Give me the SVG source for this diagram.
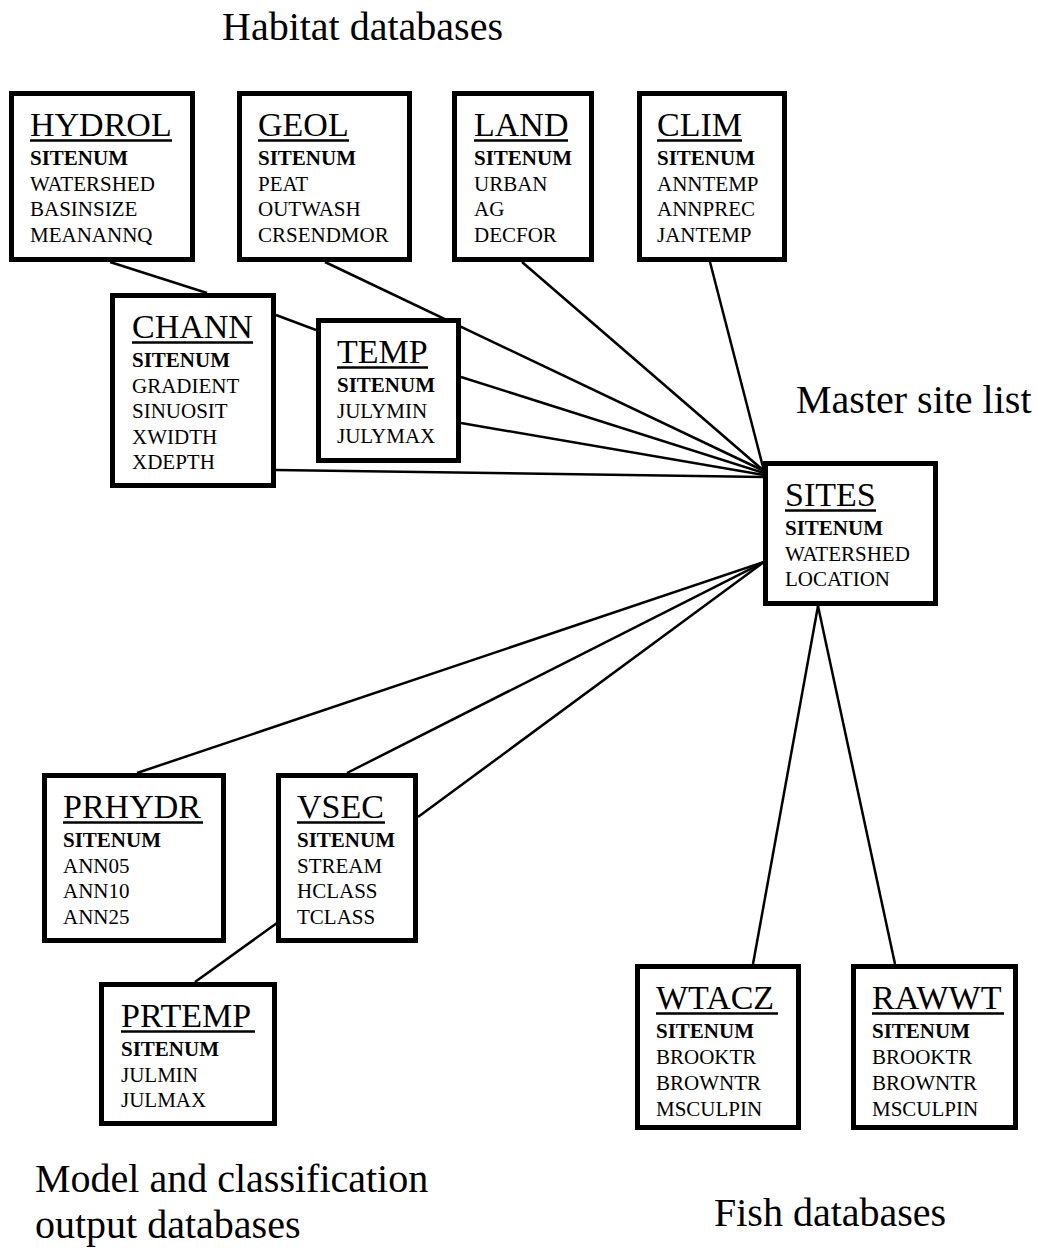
<svg xmlns="http://www.w3.org/2000/svg" width="1037" height="1249" viewBox="0 0 1037 1249">
<style>
text{font-family:"Liberation Serif","Times New Roman",serif;fill:#000}
.lbl{font-size:40px}
.t{font-size:34px}
.f{font-size:21px}
.k{font-size:21px;font-weight:bold}
.box{fill:#fff;stroke:#000;stroke-width:5}
.ul{stroke:#000;stroke-width:2.6}
.c line{stroke:#000;stroke-width:2.5}
</style>
<rect width="1037" height="1249" fill="#fff"/>
<text class="lbl" x="222" y="40">Habitat databases</text>
<text class="lbl" x="796" y="413">Master site list</text>
<text class="lbl" x="35" y="1192">Model and classification</text>
<text class="lbl" x="35" y="1238">output databases</text>
<text class="lbl" x="714" y="1226">Fish databases</text>
<g id="connectors" class="c">
<line x1="110" y1="262" x2="207" y2="293"/>
<line x1="276" y1="315" x2="316" y2="330"/>
<line x1="325" y1="262" x2="764" y2="471"/>
<line x1="522" y1="262" x2="764" y2="471"/>
<line x1="710" y1="262" x2="764" y2="471"/>
<line x1="461" y1="377" x2="764" y2="473"/>
<line x1="461" y1="423" x2="764" y2="475"/>
<line x1="276" y1="470" x2="764" y2="477"/>
<line x1="137" y1="773" x2="764" y2="562"/>
<line x1="347" y1="773" x2="764" y2="562"/>
<line x1="418" y1="817" x2="764" y2="562"/>
<line x1="277" y1="923" x2="195" y2="982"/>
<line x1="818" y1="606" x2="753" y2="964"/>
<line x1="818" y1="606" x2="895" y2="964"/>
</g>
<g id="HYDROL">
<rect class="box" x="11.5" y="93.5" width="181" height="166"/>
<text class="t" x="30" y="136">HYDROL</text><line class="ul" x1="30" y1="140.5" x2="172" y2="140.5"/>
<text class="k" x="30" y="165">SITENUM</text>
<text class="f" x="30" y="190.5">WATERSHED</text>
<text class="f" x="30" y="216">BASINSIZE</text>
<text class="f" x="30" y="241.5">MEANANNQ</text>
</g>
<g id="GEOL">
<rect class="box" x="239.5" y="93.5" width="170" height="166"/>
<text class="t" x="258" y="136">GEOL</text><line class="ul" x1="258" y1="140.5" x2="349" y2="140.5"/>
<text class="k" x="258" y="165">SITENUM</text>
<text class="f" x="258" y="190.5">PEAT</text>
<text class="f" x="258" y="216">OUTWASH</text>
<text class="f" x="258" y="241.5">CRSENDMOR</text>
</g>
<g id="LAND">
<rect class="box" x="454.5" y="93.5" width="137" height="166"/>
<text class="t" x="474" y="136">LAND</text><line class="ul" x1="474" y1="140.5" x2="568" y2="140.5"/>
<text class="k" x="474" y="165">SITENUM</text>
<text class="f" x="474" y="190.5">URBAN</text>
<text class="f" x="474" y="216">AG</text>
<text class="f" x="474" y="241.5">DECFOR</text>
</g>
<g id="CLIM">
<rect class="box" x="639.5" y="93.5" width="145" height="166"/>
<text class="t" x="657" y="136">CLIM</text><line class="ul" x1="657" y1="140.5" x2="742" y2="140.5"/>
<text class="k" x="657" y="165">SITENUM</text>
<text class="f" x="657" y="190.5">ANNTEMP</text>
<text class="f" x="657" y="216">ANNPREC</text>
<text class="f" x="657" y="241.5">JANTEMP</text>
</g>
<g id="CHANN">
<rect class="box" x="112.5" y="295.5" width="161" height="190"/>
<text class="t" x="132" y="338">CHANN</text><line class="ul" x1="132" y1="342.5" x2="253" y2="342.5"/>
<text class="k" x="132" y="367">SITENUM</text>
<text class="f" x="132" y="392.5">GRADIENT</text>
<text class="f" x="132" y="418">SINUOSIT</text>
<text class="f" x="132" y="443.5">XWIDTH</text>
<text class="f" x="132" y="469">XDEPTH</text>
</g>
<g id="TEMP">
<rect class="box" x="318.5" y="320.5" width="140" height="140"/>
<text class="t" x="337" y="363">TEMP</text><line class="ul" x1="337" y1="367.5" x2="428" y2="367.5"/>
<text class="k" x="337" y="392">SITENUM</text>
<text class="f" x="337" y="417.5">JULYMIN</text>
<text class="f" x="337" y="443">JULYMAX</text>
</g>
<g id="SITES">
<rect class="box" x="765.5" y="463.5" width="170" height="140"/>
<text class="t" x="785" y="506">SITES</text><line class="ul" x1="785" y1="510.5" x2="876" y2="510.5"/>
<text class="k" x="785" y="535">SITENUM</text>
<text class="f" x="785" y="560.5">WATERSHED</text>
<text class="f" x="785" y="586">LOCATION</text>
</g>
<g id="PRHYDR">
<rect class="box" x="44.5" y="775.5" width="179" height="165"/>
<text class="t" x="63" y="818">PRHYDR</text><line class="ul" x1="63" y1="822.5" x2="203" y2="822.5"/>
<text class="k" x="63" y="847">SITENUM</text>
<text class="f" x="63" y="872.5">ANN05</text>
<text class="f" x="63" y="898">ANN10</text>
<text class="f" x="63" y="923.5">ANN25</text>
</g>
<g id="VSEC">
<rect class="box" x="278.5" y="775.5" width="137" height="165"/>
<text class="t" x="297" y="818">VSEC</text><line class="ul" x1="297" y1="822.5" x2="385" y2="822.5"/>
<text class="k" x="297" y="847">SITENUM</text>
<text class="f" x="297" y="872.5">STREAM</text>
<text class="f" x="297" y="898">HCLASS</text>
<text class="f" x="297" y="923.5">TCLASS</text>
</g>
<g id="PRTEMP">
<rect class="box" x="101.5" y="984.5" width="173" height="139"/>
<text class="t" x="121" y="1027">PRTEMP</text><line class="ul" x1="121" y1="1031.5" x2="255" y2="1031.5"/>
<text class="k" x="121" y="1056">SITENUM</text>
<text class="f" x="121" y="1081.5">JULMIN</text>
<text class="f" x="121" y="1107">JULMAX</text>
</g>
<g id="WTACZ">
<rect class="box" x="637.5" y="966.5" width="161" height="161"/>
<text class="t" x="656" y="1009">WTACZ</text><line class="ul" x1="656" y1="1013.5" x2="778" y2="1013.5"/>
<text class="k" x="656" y="1038">SITENUM</text>
<text class="f" x="656" y="1064">BROOKTR</text>
<text class="f" x="656" y="1090">BROWNTR</text>
<text class="f" x="656" y="1116">MSCULPIN</text>
</g>
<g id="RAWWT">
<rect class="box" x="853.5" y="966.5" width="162" height="161"/>
<text class="t" x="872" y="1009">RAWWT</text><line class="ul" x1="872" y1="1013.5" x2="1004" y2="1013.5"/>
<text class="k" x="872" y="1038">SITENUM</text>
<text class="f" x="872" y="1064">BROOKTR</text>
<text class="f" x="872" y="1090">BROWNTR</text>
<text class="f" x="872" y="1116">MSCULPIN</text>
</g>
</svg>
